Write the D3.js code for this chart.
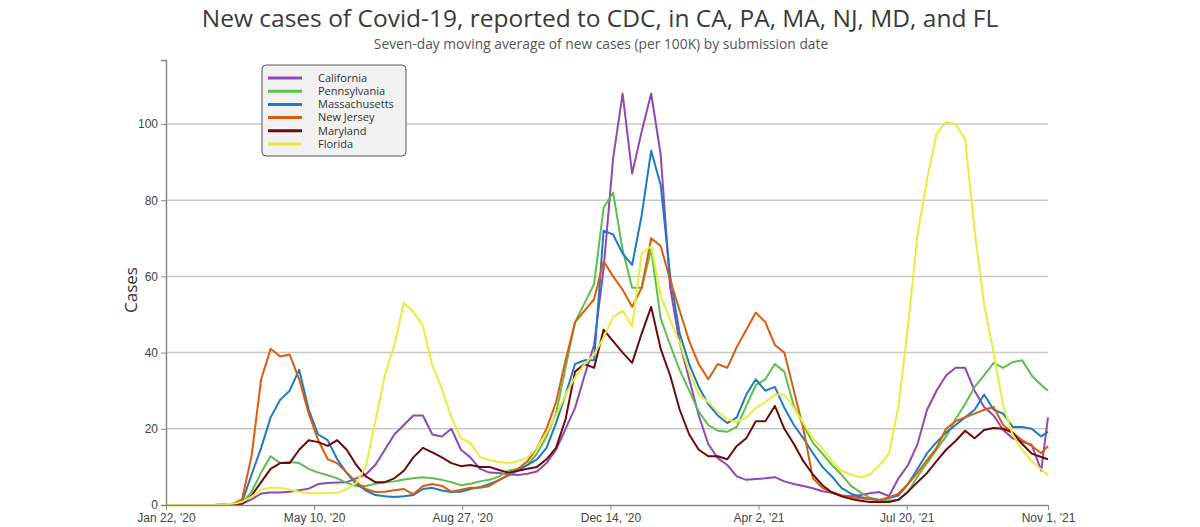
<!DOCTYPE html>
<html>
<head>
<meta charset="utf-8">
<script src="https://cdn.jsdelivr.net/npm/d3@7"></script>
<style>
  html, body { margin: 0; padding: 0; background: #fff; }
  svg { display: block; }
</style>
</head>
<body>
<svg id="chart" width="1200" height="527"></svg>
<script>
// ---------- DATA ----------
const startDay = "2020-01-22";
const endDay = "2021-11-01";
const stepDays = 7; // one reading per week, last reading on endDay

const seriesNames = ["California", "Pennsylvania", "Massachusetts", "New Jersey", "Maryland", "Florida"];
const seriesColors = ["#9347b6", "#5cbf4e", "#1f7bc1", "#dd5b0c", "#6c0b0b", "#e6ee3c"];

const california = [0,0,0,0,0,0,0,0,0.3,1.5, 3,3.3,3.3,3.5,3.9,4.3,5.5,5.8,5.9,6, 7,8,10.5,14.5,18.5,21,23.5,23.5,18.5,18, 20,14.5,12.5,9.5,8.5,8.4,8.1,7.9,8.2,8.8, 11,14.5,20,25.5,34,42,62,91,108,87, 98,108,92,57,42.5,33,23.5,16,12.3,10.5, 7.5,6.6,6.8,7,7.3,6.2,5.5,5,4.4,3.6, 3.2,2.5,2.3,2.6,3.1,3.4,2.3,7,10.5,16, 25,30,34,36,36,30,25.7,23.5,19.7,17.5, 16.6,15.8,9,23];
const pennsylvania = [0,0,0,0,0,0,0,0.1,0.5,3.5, 8.5,12.8,11,11.3,11,9.5,8.5,7.8,7,5.8, 5,5,5.6,6,6.2,6.7,7,7.3,7,6.6, 6,5.2,5.6,6.2,6.6,7.5,9,9.5,10.5,13.5, 18,24,36,48,53,58,78,82,67,57, 57,67,49,42,35.4,30,24.5,21,19.5,19.2, 20.5,26,31.5,33,37,35,26,21,16.3,13.5, 10.5,8,5,3.3,1.9,1.3,1.2,1.3,3.5,7.5, 11,14.5,18,22.5,26.5,31,34,37.3,36,37.5, 38,34,31.5,30];
const massachusetts = [0,0,0,0,0,0,0.1,0.2,0.8,8, 15,23,27.6,30,35.5,25,18.5,17,12,8.4, 5.5,3.8,2.6,2.3,2.1,2.3,2.6,4.2,4.5,3.8, 3.4,3.5,4.2,4.7,5.5,6.5,7.8,9,10.5,12, 15,21.5,29,37,38,38,72,71,66,63, 76,93,84,60,45,37,31,26.5,23.5,21.5, 23,29,33,30,31,25.5,21,17.5,13.6,10, 7.5,4.5,3,2.1,1.6,1.3,1.8,2.5,5.5,9.5, 13.6,16.5,19,21,23,25,29,25,24,20.5, 20.5,20,18,19.2];
const newJersey = [0,0,0,0,0,0,0.1,0.3,1.5,13, 33,41,39,39.5,33,24,17,12,11,8.5, 6,4.2,3.4,3.5,3.9,4.2,2.8,5,5.5,5, 3.5,4,4.5,4.5,5,6.5,8,9.5,11.5,15, 20,27,38,48,51,54,64,60,56.5,52, 57,70,68,59,51,43,37,33,37,36, 41.5,46,50.5,48,42,40,30,20,7,4.5, 3.4,2.5,2.1,1.8,1.5,1.3,2,3,5.5,8.5, 11.8,15,20,22,23,24,25,25.7,21,19, 17,15.5,13.6,15.5];
const maryland = [0,0,0,0,0,0,0,0,0.3,2.5, 6,9.5,11,11,14.5,17,16.5,15.5,17,14.5, 10.5,7.5,6,6,7,9,12.5,15,13.8,12.5, 11,10.2,10.5,10,10,9.2,8.5,9,9.5,10, 12,15,22.5,35,37,36,46,43,40,37.3, 45,52,41,34,25,18.5,14.5,12.8,12.8,12, 15.5,17.5,22,22,26,20,16,11.5,8,5.2, 3.3,2.3,1.6,1.1,0.8,0.8,0.8,1.4,3.5,6, 8.4,11.5,14.5,16.8,19.5,17.5,19.7,20.2,20,19, 16,13.5,12.6,12];
const florida = [0,0,0,0,0,0,0.1,0.3,0.8,2.2, 4,4.6,4.5,4,3.5,3.1,3.1,3.1,3.2,4.2, 5.8,10,22,34,42,53,50.7,47,36.5,30.5, 23,17.5,16.3,12.6,11.8,11.3,11,11.5,12.5,15, 19,23.5,29,33.5,37,39.5,44,49.3,51,47, 66,68,55,48.5,42.5,35,29,27,24.5,22.5, 21.8,23,25.5,27,29,29,25.5,21.5,17.5,14.8, 11.5,9,8,7.2,8,10.5,13.5,26,47,71, 85.5,97.5,100.5,100,96,72,52.5,40,26,18.5, 14.5,11.5,9.3,7.9];

const xTickLabels = ["2020-01-22", "2020-05-10", "2020-08-27", "2020-12-14", "2021-04-02", "2021-07-20", "2021-11-01"];
const yTickValues = [0, 20, 40, 60, 80, 100];

const titleText = "New cases of Covid-19, reported to CDC, in CA, PA, MA, NJ, MD, and FL";
const subtitleText = "Seven-day moving average of new cases (per 100K) by submission date";
const yAxisTitle = "Cases";

// ---------- BUILD ----------
(function () {
const parse = d3.timeParse("%Y-%m-%d");
const d0 = parse(startDay), d1 = parse(endDay);
const allValues = [california, pennsylvania, massachusetts, newJersey, maryland, florida];
const n = california.length;
const dates = d3.range(n).map(i => i === n - 1 ? d1 : d3.timeDay.offset(d0, i * stepDays));

const svg = d3.select("#chart");
const pLeft = 166, pRight = 1048, pTop = 60, pBottom = 505;

const x = d3.scaleTime().domain([d0, d1]).range([pLeft, pRight]);
const y = d3.scaleLinear().domain([0, 116.8]).range([pBottom, pTop]);

// gridlines
svg.append("g")
  .selectAll("line")
  .data(yTickValues.filter(v => v > 0))
  .join("line")
  .attr("x1", pLeft).attr("x2", pRight)
  .attr("y1", d => y(d)).attr("y2", d => y(d))
  .attr("stroke", "#c8c8c8").attr("stroke-width", 1.5);

// lines
const line = d3.line().x((d, i) => x(dates[i])).y(d => y(d)).curve(d3.curveLinear);
svg.append("g")
  .selectAll("path")
  .data(allValues)
  .join("path")
  .attr("d", d => line(d))
  .attr("fill", "none")
  .attr("stroke", (d, i) => seriesColors[i])
  .attr("stroke-width", 2)
  .attr("stroke-linejoin", "round");

// axes
const fmt = d3.timeFormat("%b %-d, '%y");
const xAxis = svg.append("g")
  .attr("transform", `translate(0,${pBottom})`)
  .call(d3.axisBottom(x).tickValues(xTickLabels.map(parse)).tickFormat(fmt).tickSize(5).tickSizeOuter(0));
const yAxis = svg.append("g")
  .attr("transform", `translate(${pLeft},0)`)
  .call(d3.axisLeft(y).tickValues(yTickValues).tickSize(5).tickSizeOuter(5));

[xAxis, yAxis].forEach(g => {
  g.select(".domain").attr("stroke", "#888").attr("stroke-width", 1.5);
  g.selectAll(".tick line").attr("stroke", "#888").attr("stroke-width", 1);
  g.selectAll(".tick text")
    .attr("fill", "#444")
    .style("font-family", "'Liberation Sans', Arial, sans-serif")
    .style("font-size", "12px");
});
xAxis.selectAll(".tick text").attr("dy", "0.75em");
yAxis.selectAll(".tick text").attr("x", -8);

// titles
svg.append("text")
  .attr("x", 600).attr("y", 26.8)
  .attr("text-anchor", "middle")
  .style("font-family", "'Open Sans', sans-serif")
  .style("font-size", "24.5px")
  .attr("fill", "#3a3a3a")
  .text(titleText);
svg.append("text")
  .attr("x", 601).attr("y", 49)
  .attr("text-anchor", "middle")
  .style("font-family", "'Open Sans', sans-serif")
  .style("font-size", "13.8px")
  .attr("fill", "#555")
  .text(subtitleText);
svg.append("text")
  .attr("transform", "translate(137,290) rotate(-90)")
  .attr("text-anchor", "middle")
  .style("font-family", "'Open Sans', sans-serif")
  .style("font-size", "17px")
  .attr("fill", "#333")
  .text(yAxisTitle);

// legend
const lg = svg.append("g").attr("transform", "translate(262,65)");
lg.append("rect")
  .attr("width", 144).attr("height", 91).attr("rx", 4)
  .attr("fill", "#f1f1f1").attr("stroke", "#555").attr("stroke-width", 1);
const items = lg.selectAll("g.item").data(seriesNames).join("g")
  .attr("class", "item")
  .attr("transform", (d, i) => `translate(0,${13 + i * 13.2})`);
items.append("line")
  .attr("x1", 6).attr("x2", 40)
  .attr("stroke", (d, i) => seriesColors[i]).attr("stroke-width", 3);
items.append("text")
  .attr("x", 56).attr("dy", "0.35em")
  .style("font-family", "'Open Sans', sans-serif")
  .style("font-size", "11px")
  .attr("fill", "#333")
  .text(d => d);
})();
</script>
</body>
</html>
